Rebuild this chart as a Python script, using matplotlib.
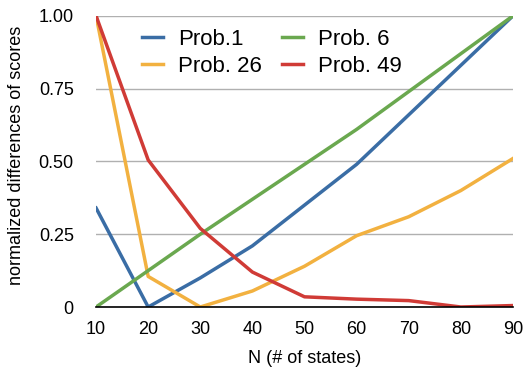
import matplotlib
matplotlib.use("Agg")
import matplotlib.pyplot as plt

plt.rcParams['font.family'] = ['Liberation Sans', 'DejaVu Sans']

n_states = [10, 20, 30, 40, 50, 60, 70, 80, 90]
prob1 = [0.34, 0.0, 0.10, 0.21, 0.35, 0.49, 0.66, 0.83, 1.0]
prob6 = [0.0, 0.125, 0.25, 0.37, 0.49, 0.61, 0.74, 0.87, 1.0]
prob26 = [1.0, 0.105, 0.0, 0.055, 0.14, 0.245, 0.31, 0.40, 0.51]
prob49 = [1.0, 0.505, 0.27, 0.12, 0.035, 0.027, 0.022, 0.0, 0.005]

fig = plt.figure(figsize=(5.25, 3.69), dpi=100)
ax = fig.add_axes([0.183, 0.168, 0.794, 0.789])

ax.plot(n_states, prob1, color='#3A6DA5', lw=2.5, label='Prob.1')
ax.plot(n_states, prob26, color='#F2B140', lw=2.5, label='Prob. 26')
ax.plot(n_states, prob6, color='#6AA84F', lw=2.5, label='Prob. 6')
ax.plot(n_states, prob49, color='#D03B36', lw=2.5, label='Prob. 49')

ax.set_xlim(10, 90)
ax.set_ylim(0, 1)
ax.set_xticks(n_states)
ax.set_yticks([0, 0.25, 0.5, 0.75, 1.0])
ax.set_yticklabels(['0', '0.25', '0.50', '0.75', '1.00'])
ax.tick_params(length=0, labelsize=13)
ax.tick_params(axis='y', pad=16)
ax.tick_params(axis='x', pad=10)
ax.grid(axis='y', color='#b0b0b0', lw=1)
ax.set_axisbelow(True)
for s in ['top', 'right', 'left']:
    ax.spines[s].set_visible(False)
ax.spines['bottom'].set_color('black')
ax.spines['bottom'].set_linewidth(1.2)

ax.set_xlabel('N (# of states)', fontsize=13, labelpad=9)
ax.set_ylabel('normalized differences of scores', fontsize=13)
ax.yaxis.set_label_coords(-0.17, 0.52)

ax.legend(ncol=2, loc='upper left', bbox_to_anchor=(0.11, 0.955), frameon=False,
          fontsize=16, handlelength=0.95, columnspacing=0.9, labelspacing=0.25,
          handletextpad=0.68, borderpad=0, borderaxespad=0)

fig.savefig('out.png', dpi=100)
